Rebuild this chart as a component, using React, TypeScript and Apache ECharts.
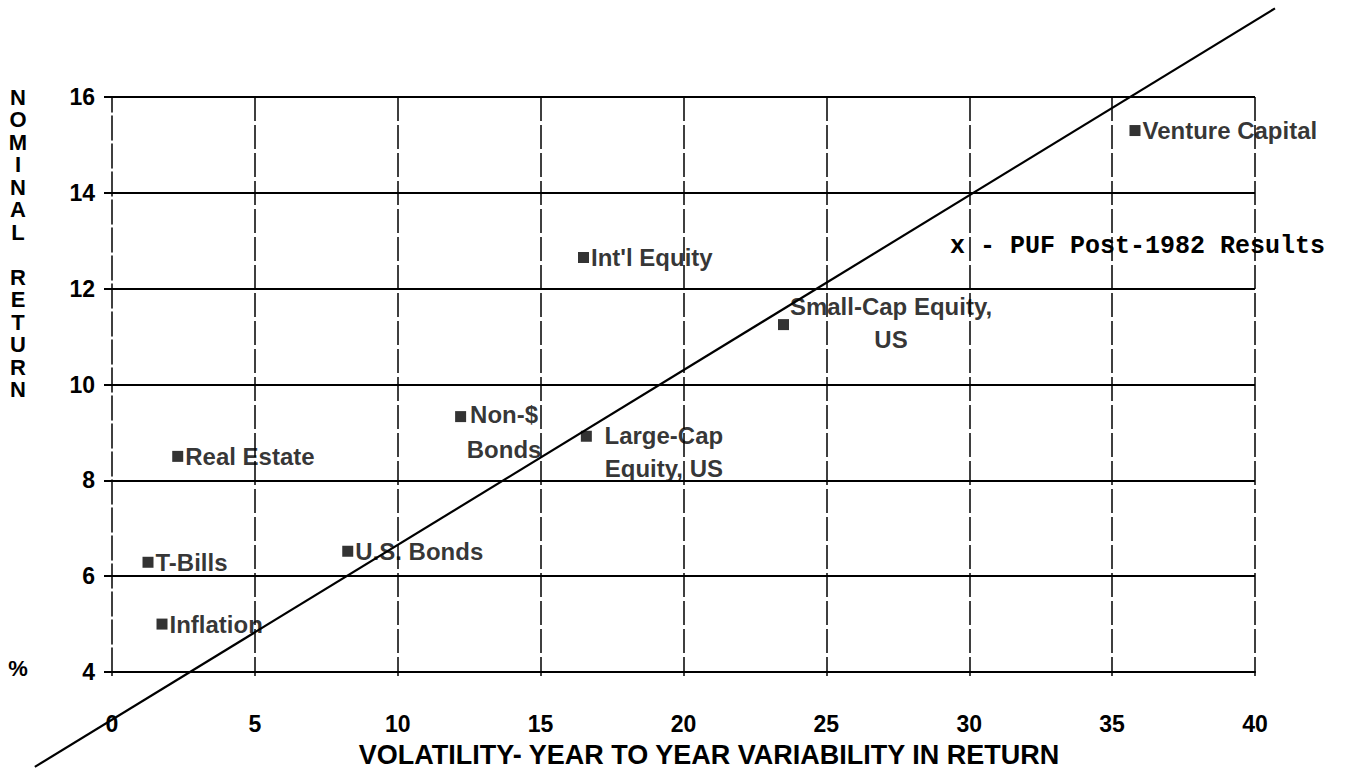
import React, { useEffect, useRef } from "react";
import * as echarts from "echarts";

// ---- data ----
const assetNames = [
  "Venture Capital",
  "Int'l Equity",
  "Small-Cap Equity,\nUS",
  "Non-$\nBonds",
  "Large-Cap\nEquity, US",
  "Real Estate",
  "T-Bills",
  "U.S. Bonds",
  "Inflation",
];
const volatility = [35.8, 16.5, 23.5, 12.2, 16.6, 2.3, 1.26, 8.25, 1.75];
const nominalReturn = [15.3, 12.65, 11.25, 9.33, 8.92, 8.5, 6.29, 6.52, 5.0];

// market line (drawn beyond the plot area)
const lineX = [-2.7, 40.7];
const lineY = [2.02, 17.85];

const xTicks = [0, 5, 10, 15, 20, 25, 30, 35, 40];
const yTicks = [4, 6, 8, 10, 12, 14, 16];

const yAxisTitle = ["N", "O", "M", "I", "N", "A", "L", "", "R", "E", "T", "U", "R", "N"];
const xAxisTitle = "VOLATILITY- YEAR TO YEAR VARIABILITY IN RETURN";
const noteText = "x - PUF Post-1982 Results";

// label placement overrides (style only)
const labelOverrides: Record<number, any> = {
  2: { align: "center", offset: [100, -2], lineHeight: 33 },
  3: { align: "center", offset: [36, 15], lineHeight: 35 },
  4: { align: "center", offset: [70, 16], lineHeight: 33 },
};

const FONT = "'Liberation Sans', Arial, Helvetica, sans-serif";

export default function App() {
  const ref = useRef<HTMLDivElement>(null);

  useEffect(() => {
    if (!ref.current) return;
    const chart = echarts.init(ref.current, undefined, { renderer: "svg" });

    const points = assetNames.map((name, i) => {
      const item: any = { name, value: [volatility[i], nominalReturn[i]] };
      if (labelOverrides[i]) item.label = labelOverrides[i];
      return item;
    });

    chart.setOption({
      animation: false,
      backgroundColor: "#ffffff",
      grid: { left: 112, right: 98, top: 97, bottom: 98, containLabel: false },
      xAxis: {
        type: "value",
        min: xTicks[0],
        max: xTicks[xTicks.length - 1],
        interval: 5,
        axisLine: { show: true, lineStyle: { color: "#000", width: 2 } },
        axisTick: { show: true, length: 4, lineStyle: { color: "#000", width: 1.5 } },
        axisLabel: {
          margin: 40,
          color: "#000",
          fontFamily: FONT,
          fontWeight: "bold",
          fontSize: 23,
        },
        splitLine: {
          show: true,
          showMinLine: false,
          lineStyle: { color: "#000", width: 1.5, type: [24, 4] },
        },
      },
      yAxis: {
        type: "value",
        min: yTicks[0],
        max: yTicks[yTicks.length - 1],
        interval: 2,
        axisLine: { show: true, lineStyle: { color: "#000", width: 1.5, type: [24, 4] } },
        axisTick: { show: true, length: 8, lineStyle: { color: "#000", width: 2 } },
        axisLabel: {
          margin: 17,
          color: "#000",
          fontFamily: FONT,
          fontWeight: "bold",
          fontSize: 23,
        },
        splitLine: { show: true, showMinLine: false, lineStyle: { color: "#000", width: 2 } },
      },
      series: [
        {
          type: "scatter",
          data: points,
          symbol: "rect",
          symbolSize: 11,
          itemStyle: { color: "#000" },
          clip: false,
          z: 4,
          label: {
            show: true,
            position: "right",
            distance: 2,
            formatter: (p: any) => p.name,
            color: "#000",
            fontFamily: FONT,
            fontWeight: "bold",
            fontSize: 24,
          },
        },
      ],
    });

    // the market line extends beyond the plot: map its ends through the chart's scales
    const p1 = chart.convertToPixel({ gridIndex: 0 }, [lineX[0], lineY[0]]) as number[];
    const p2 = chart.convertToPixel({ gridIndex: 0 }, [lineX[1], lineY[1]]) as number[];

    chart.setOption({
      graphic: [
        {
          type: "line",
          z: 3,
          silent: true,
          shape: { x1: p1[0], y1: p1[1], x2: p2[0], y2: p2[1] },
          style: { stroke: "#000", lineWidth: 2.2 },
        },
        {
          type: "text",
          x: 18,
          y: 86,
          style: {
            text: yAxisTitle.join("\n"),
            fill: "#000",
            font: `bold 22px ${FONT}`,
            lineHeight: 22.5,
            align: "center",
            verticalAlign: "top",
          },
        },
        {
          type: "text",
          x: 18,
          y: 668,
          style: {
            text: "%",
            fill: "#000",
            font: `bold 22px ${FONT}`,
            align: "center",
            verticalAlign: "middle",
          },
        },
        {
          type: "text",
          x: 709,
          y: 741,
          style: {
            text: xAxisTitle,
            fill: "#000",
            font: `bold 27px ${FONT}`,
            align: "center",
            verticalAlign: "top",
          },
        },
        {
          type: "text",
          x: 950,
          y: 246,
          style: {
            text: noteText,
            fill: "#000",
            font: `bold 25px 'Liberation Mono', 'Courier New', monospace`,
            align: "left",
            verticalAlign: "middle",
          },
        },
      ],
    });

    return () => chart.dispose();
  }, []);

  return (
    <div
      ref={ref}
      style={{ position: "fixed", left: 0, top: 0, width: 1353, height: 770, background: "#fff" }}
    />
  );
}
